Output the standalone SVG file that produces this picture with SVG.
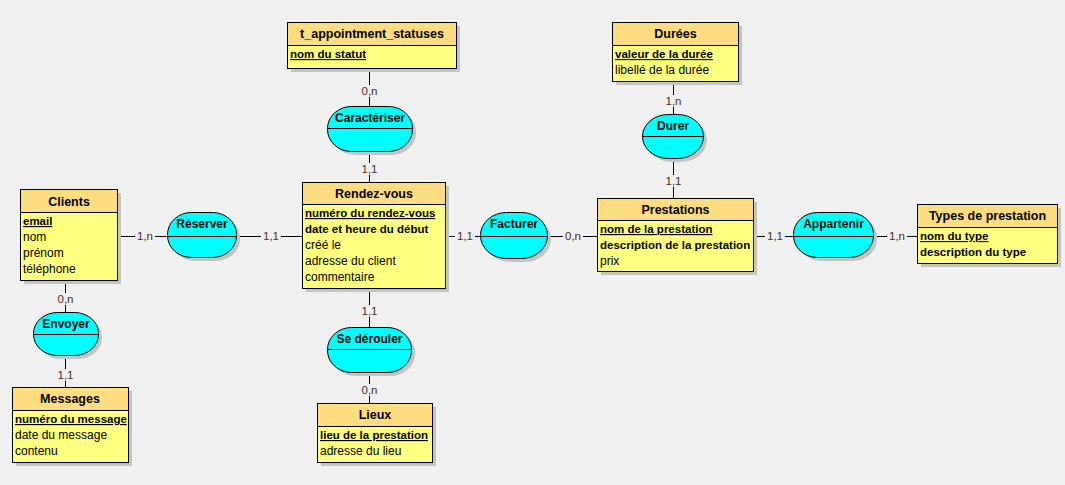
<svg xmlns="http://www.w3.org/2000/svg" width="1065" height="485" viewBox="0 0 1065 485">
<style>
text{font-family:"Liberation Sans",Arial,sans-serif;fill:#000}
.sh{fill:#c4c4c4}
.hd{fill:#ffdd80;stroke:#000;stroke-width:1}
.bd{fill:#ffff80;stroke:#000;stroke-width:1}
.as{fill:#00ffff;stroke:#000;stroke-width:1}
.ln{stroke:#000;stroke-width:1;fill:none}
.t{font-size:12.5px;font-weight:bold;text-anchor:middle}
.at{font-size:12px}
.k{font-size:11.5px;font-weight:bold}
.u{text-decoration:underline}
.lb{font-size:11.5px;text-anchor:middle;fill:#4a3020}
.lbg{fill:#f0f0f0}
</style>
<rect width="1065" height="485" fill="#f0f0f0"/>
<g id="connectors">
<path class="ln" d="M117.5 236.5H167.5M236.5 236.5H302.5M445.5 236.5H480.5M547.5 236.5H597.5M753.5 236.5H793.5M873.5 236.5H917.5M369.5 68.5V106.5M369.5 151.5V182.5M369.5 288.5V327.5M369.5 372.5V403.5M673.5 81.5V114.5M673.5 158.5V198.5M65.5 280.5V312.5M65.5 355.5V387.5"/>
<g id="labels">
<rect class="lbg" x="135" y="230" width="20" height="12"/><text class="lb" x="145" y="240">1,n</text>
<rect class="lbg" x="261" y="230" width="20" height="12"/><text class="lb" x="271" y="240">1,1</text>
<rect class="lbg" x="455" y="230" width="20" height="12"/><text class="lb" x="465" y="240">1,1</text>
<rect class="lbg" x="563" y="230" width="20" height="12"/><text class="lb" x="573" y="240">0,n</text>
<rect class="lbg" x="765" y="230" width="20" height="12"/><text class="lb" x="775" y="240">1,1</text>
<rect class="lbg" x="887" y="230" width="20" height="12"/><text class="lb" x="897" y="240">1,n</text>
<rect class="lbg" x="359" y="85" width="20" height="12"/><text class="lb" x="369.5" y="95">0,n</text>
<rect class="lbg" x="359" y="163" width="20" height="12"/><text class="lb" x="369.5" y="173">1,1</text>
<rect class="lbg" x="359" y="305" width="20" height="12"/><text class="lb" x="369.5" y="315">1,1</text>
<rect class="lbg" x="359" y="384" width="20" height="12"/><text class="lb" x="369.5" y="394">0,n</text>
<rect class="lbg" x="663" y="95" width="20" height="12"/><text class="lb" x="673.5" y="105">1,n</text>
<rect class="lbg" x="663" y="175" width="20" height="12"/><text class="lb" x="673.5" y="185">1,1</text>
<rect class="lbg" x="55" y="293" width="20" height="12"/><text class="lb" x="65.5" y="303">0,n</text>
<rect class="lbg" x="55" y="369" width="20" height="12"/><text class="lb" x="65.5" y="379">1,1</text>
</g>
</g>
<g id="Clients">
<rect class="sh" x="24" y="193" width="97" height="91"/>
<rect class="hd" x="20.5" y="189.5" width="97" height="23"/>
<rect class="bd" x="20.5" y="212.5" width="97" height="68"/>
<text class="t" x="69" y="206">Clients</text>
<text class="k u" x="23" y="225">email</text>
<text class="at" x="23" y="241">nom</text>
<text class="at" x="23" y="257">prénom</text>
<text class="at" x="23" y="273">téléphone</text>
</g>
<g id="RendezVous">
<rect class="sh" x="306" y="186" width="143" height="106"/>
<rect class="hd" x="302.5" y="182.5" width="143" height="22"/>
<rect class="bd" x="302.5" y="204.5" width="143" height="84"/>
<text class="t" x="374" y="198">Rendez-vous</text>
<text class="k u" x="305" y="217">numéro du rendez-vous</text>
<text class="k" x="305" y="233">date et heure du début</text>
<text class="at" x="305" y="249">créé le</text>
<text class="at" x="305" y="265">adresse du client</text>
<text class="at" x="305" y="281">commentaire</text>
</g>
<g id="Prestations">
<rect class="sh" x="601" y="202" width="156" height="73"/>
<rect class="hd" x="597.5" y="198.5" width="156" height="22"/>
<rect class="bd" x="597.5" y="220.5" width="156" height="51"/>
<text class="t" x="675.5" y="214">Prestations</text>
<text class="k u" x="600" y="233">nom de la prestation</text>
<text class="k" x="600" y="249">description de la prestation</text>
<text class="at" x="600" y="265">prix</text>
</g>
<g id="Durees">
<rect class="sh" x="616" y="26" width="126" height="59"/>
<rect class="hd" x="612.5" y="22.5" width="126" height="23"/>
<rect class="bd" x="612.5" y="45.5" width="126" height="36"/>
<text class="t" x="675.5" y="38">Durées</text>
<text class="k u" x="615" y="58">valeur de la durée</text>
<text class="at" x="615" y="74">libellé de la durée</text>
</g>
<g id="TAppointmentStatuses">
<rect class="sh" x="291" y="26" width="169" height="46"/>
<rect class="hd" x="287.5" y="22.5" width="169" height="23"/>
<rect class="bd" x="287.5" y="45.5" width="169" height="23"/>
<text class="t" x="372" y="38">t_appointment_statuses</text>
<text class="k u" x="290" y="58">nom du statut</text>
</g>
<g id="TypesDePrestation">
<rect class="sh" x="921" y="208" width="140" height="59"/>
<rect class="hd" x="917.5" y="204.5" width="140" height="23"/>
<rect class="bd" x="917.5" y="227.5" width="140" height="36"/>
<text class="t" x="987.5" y="220">Types de prestation</text>
<text class="k u" x="920" y="240">nom du type</text>
<text class="k" x="920" y="256">description du type</text>
</g>
<g id="Lieux">
<rect class="sh" x="321" y="407" width="115" height="59"/>
<rect class="hd" x="317.5" y="403.5" width="115" height="23"/>
<rect class="bd" x="317.5" y="426.5" width="115" height="36"/>
<text class="t" x="375" y="419">Lieux</text>
<text class="k u" x="320" y="439">lieu de la prestation</text>
<text class="at" x="320" y="455">adresse du lieu</text>
</g>
<g id="Messages">
<rect class="sh" x="16" y="391" width="116" height="75"/>
<rect class="hd" x="12.5" y="387.5" width="116" height="23"/>
<rect class="bd" x="12.5" y="410.5" width="116" height="52"/>
<text class="t" x="70" y="403">Messages</text>
<text class="k u" x="15" y="423">numéro du message</text>
<text class="at" x="15" y="439">date du message</text>
<text class="at" x="15" y="455">contenu</text>
</g>
<g id="Reserver">
<rect class="sh" x="171" y="216" width="69" height="45" rx="24" ry="22"/>
<rect class="as" x="167.5" y="212.5" width="69" height="45" rx="24" ry="22"/>
<path class="ln" d="M167.5 236.5H236.5"/>
<text class="t" x="202" y="228" style="font-size:12px">Réserver</text>
</g>
<g id="Facturer">
<rect class="sh" x="484" y="216" width="67" height="46" rx="26" ry="23"/>
<rect class="as" x="480.5" y="212.5" width="67" height="46" rx="26" ry="23"/>
<path class="ln" d="M480.5 236.5H547.5"/>
<text class="t" x="514" y="228" style="font-size:12px">Facturer</text>
</g>
<g id="Appartenir">
<rect class="sh" x="797" y="216" width="80" height="45" rx="24" ry="22"/>
<rect class="as" x="793.5" y="212.5" width="80" height="45" rx="24" ry="22"/>
<path class="ln" d="M793.5 236.5H873.5"/>
<text class="t" x="833.5" y="228" style="font-size:12px">Appartenir</text>
</g>
<g id="Caracteriser">
<rect class="sh" x="331" y="110" width="85" height="45" rx="24" ry="22"/>
<rect class="as" x="327.5" y="106.5" width="85" height="45" rx="24" ry="22"/>
<path class="ln" d="M327.5 128.5H412.5"/>
<text class="t" x="370" y="122" style="font-size:12px">Caractériser</text>
</g>
<g id="Durer">
<rect class="sh" x="646" y="118" width="61" height="44" rx="26" ry="22"/>
<rect class="as" x="642.5" y="114.5" width="61" height="44" rx="26" ry="22"/>
<path class="ln" d="M642.5 136.5H703.5"/>
<text class="t" x="673" y="130" style="font-size:12px">Durer</text>
</g>
<g id="SeDerouler">
<rect class="sh" x="331" y="331" width="84" height="45" rx="24" ry="22"/>
<rect class="as" x="327.5" y="327.5" width="84" height="45" rx="24" ry="22"/>
<path class="ln" d="M327.5 349.5H411.5"/>
<text class="t" x="369.5" y="343" style="font-size:12px">Se dérouler</text>
</g>
<g id="Envoyer">
<rect class="sh" x="37" y="316" width="65" height="43" rx="24" ry="21"/>
<rect class="as" x="33.5" y="312.5" width="65" height="43" rx="24" ry="21"/>
<path class="ln" d="M33.5 334.5H98.5"/>
<text class="t" x="66" y="328" style="font-size:12px">Envoyer</text>
</g>
</svg>
